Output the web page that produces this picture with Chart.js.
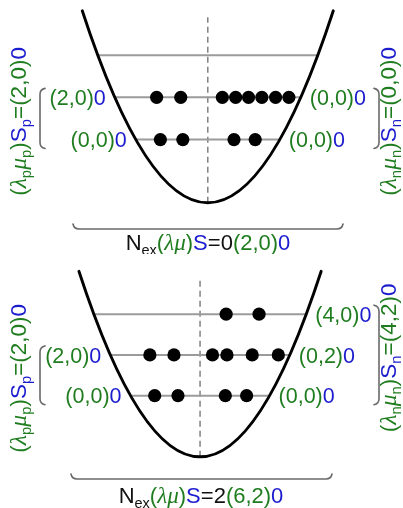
<!DOCTYPE html>
<html>
<head>
<meta charset="utf-8">
<script src="https://cdn.jsdelivr.net/npm/chart.js@4.4.1/dist/chart.umd.min.js"></script>
<style>
  html, body { margin: 0; padding: 0; background: #fff; }
  #wrap { position: relative; width: 403px; height: 508px; overflow: hidden; }
  #wrap canvas { position: absolute; left: 0; display: block; }
</style>
</head>
<body>
<div id="wrap">
  <canvas id="gs" width="403" height="254" style="top:0"></canvas>
  <canvas id="ex" width="403" height="254" style="top:254px"></canvas>
</div>
<script>
// Oscillator shell energies in units of hbar*omega (N + 3/2)
const shellEnergies = [1.5, 2.5, 3.5];
const wellTopEnergy = 4.55;
const axisTopEnergy = 4.4;

// Ground configuration, Nex = 0
const gsProtonX  = [[-1.14, -0.60], [-1.23, -0.65], []];
const gsNeutronX = [[0.63, 1.14], [0.35, 0.67, 0.98, 1.30, 1.63, 1.95], []];
const gsProtonIrreps  = ['(0,0)', '(2,0)', null];
const gsNeutronIrreps = ['(0,0)', '(0,0)', null];
const gsProtonTotal  = ['(2,0)', '0'];
const gsNeutronTotal = ['(0,0)', '0'];
const gsNex = '0';
const gsTotal = ['(2,0)', '0'];

// 2hbar*omega excitation, Nex = 2
const exProtonX  = [[-1.13, -0.55], [-1.25, -0.65], []];
const exNeutronX = [[0.63, 1.16], [0.31, 0.67, 1.30, 1.95], [0.65, 1.47]];
const exProtonIrreps  = ['(0,0)', '(2,0)', null];
const exNeutronIrreps = ['(0,0)', '(0,2)', '(4,0)'];
const exProtonTotal  = ['(2,0)', '0'];
const exNeutronTotal = ['(4,2)', '0'];
const exNex = '2';
const exTotal = ['(6,2)', '0'];

const levelSpin = '0';

const GREEN = '#1f7d1f';
const BLUE = '#1c1ccf';
const BLACK = '#111111';
const SANS = '"Liberation Sans", Arial, Helvetica, sans-serif';
const SERIF = '"Liberation Serif", "DejaVu Serif", serif';

function segFont(s, size) {
  const fs = s.sub ? size * 0.66 : (s.greek ? size * 1.05 : size);
  return (s.greek ? 'italic ' : '') + fs + 'px ' + (s.greek ? SERIF : SANS);
}
function richWidth(ctx, segs, size) {
  let w = 0;
  for (const s of segs) { ctx.font = segFont(s, size); w += ctx.measureText(s.t).width; }
  return w;
}
function drawRich(ctx, segs, x, y, align, size) {
  const w = richWidth(ctx, segs, size);
  let cx = align === 'right' ? x - w : align === 'center' ? x - w / 2 : x;
  ctx.textBaseline = 'alphabetic';
  ctx.textAlign = 'left';
  for (const s of segs) {
    ctx.font = segFont(s, size);
    ctx.fillStyle = s.c;
    ctx.fillText(s.t, cx, y + (s.sub ? size * 0.24 : 0));
    cx += ctx.measureText(s.t).width;
  }
}
function irrepSegs(irrep, spin) {
  return [{ t: irrep, c: GREEN }, { t: spin, c: BLUE }];
}
function partSegs(sub, total) {
  return [
    { t: '(', c: GREEN }, { t: 'λ', c: GREEN, greek: true }, { t: sub, c: GREEN, sub: true },
    { t: 'μ', c: GREEN, greek: true }, { t: sub, c: GREEN, sub: true }, { t: ')', c: GREEN },
    { t: 'S', c: BLUE }, { t: sub, c: BLUE, sub: true },
    { t: '=', c: GREEN }, { t: total[0], c: GREEN }, { t: total[1], c: BLUE }
  ];
}
function totalSegs(nex, total) {
  return [
    { t: 'N', c: BLACK }, { t: 'ex', c: BLACK, sub: true },
    { t: '(', c: GREEN }, { t: 'λ', c: GREEN, greek: true }, { t: 'μ', c: GREEN, greek: true }, { t: ')', c: GREEN },
    { t: 'S', c: BLUE }, { t: '=', c: BLACK }, { t: nex, c: BLACK },
    { t: total[0], c: GREEN }, { t: total[1], c: BLUE }
  ];
}

const panels = [
  {
    id: 'gs', protonX: gsProtonX, neutronX: gsNeutronX,
    protonIrreps: gsProtonIrreps, neutronIrreps: gsNeutronIrreps,
    protonTotal: gsProtonTotal, neutronTotal: gsNeutronTotal, nex: gsNex, total: gsTotal,
    view: { xMin: -208 / 43, xMax: 195 / 43, yMin: -47 / 44.5, yMax: 207 / 44.5 },
    frame: { bracketL: 40, bracketR: 379, labelL: 18, labelR: 388, braceY: 229, braceL: 73, braceR: 343, textX: 208, textY: 242 }
  },
  {
    id: 'ex', protonX: exProtonX, neutronX: exNeutronX,
    protonIrreps: exProtonIrreps, neutronIrreps: exNeutronIrreps,
    protonTotal: exProtonTotal, neutronTotal: exNeutronTotal, nex: exNex, total: exTotal,
    view: { xMin: -200 / 41.5, xMax: 203 / 41.5, yMin: -47 / 43, yMax: 207 / 43 },
    frame: { bracketL: 40, bracketR: 379, labelL: 18, labelR: 388, braceY: 225, braceL: 71, braceR: 332, textX: 201, textY: 241 }
  }
];

const LABEL_SIZE = 21.5;
const SIDE_SIZE = 22.5;
const TOTAL_SIZE = 22;
const CAP = 0.716;

const decorations = {
  id: 'decorations',
  afterDatasetsDraw(chart, args, opts) {
    const p = opts.panel, f = p.frame;
    const ctx = chart.ctx, xs = chart.scales.x, ys = chart.scales.y;
    ctx.save();

    // harmonic-oscillator well, exact parabola as a quadratic Bezier
    const a = Math.sqrt(2 * wellTopEnergy);
    ctx.beginPath();
    ctx.moveTo(xs.getPixelForValue(-a), ys.getPixelForValue(wellTopEnergy));
    ctx.quadraticCurveTo(xs.getPixelForValue(0), ys.getPixelForValue(-wellTopEnergy),
                         xs.getPixelForValue(a), ys.getPixelForValue(wellTopEnergy));
    ctx.lineWidth = 3;
    ctx.strokeStyle = '#000';
    ctx.lineCap = 'round';
    ctx.stroke();

    // shell labels beside the well walls
    shellEnergies.forEach((E, i) => {
      const w = Math.sqrt(2 * E);
      const y = ys.getPixelForValue(E) + LABEL_SIZE * CAP / 2;
      if (p.protonIrreps[i]) drawRich(ctx, irrepSegs(p.protonIrreps[i], levelSpin), xs.getPixelForValue(-w) - 9, y, 'right', LABEL_SIZE);
      if (p.neutronIrreps[i]) drawRich(ctx, irrepSegs(p.neutronIrreps[i], levelSpin), xs.getPixelForValue(w) + 9, y, 'left', LABEL_SIZE);
    });

    // brackets grouping the occupied shells
    const span = (irreps) => {
      const occ = shellEnergies.filter((E, i) => irreps[i]);
      return [ys.getPixelForValue(Math.max(...occ)) - 9, ys.getPixelForValue(Math.min(...occ)) + 9];
    };
    ctx.strokeStyle = '#6a6a6a';
    ctx.lineWidth = 1.6;
    const bracket = (x, top, bot, dir) => {
      ctx.beginPath();
      ctx.moveTo(x + dir * 5, top);
      ctx.quadraticCurveTo(x, top + 1, x, top + 6);
      ctx.lineTo(x, bot - 6);
      ctx.quadraticCurveTo(x, bot - 1, x + dir * 5, bot);
      ctx.stroke();
    };
    const [pt, pb] = span(p.protonIrreps);
    const [nt, nb] = span(p.neutronIrreps);
    bracket(f.bracketL, pt, pb, 1);
    bracket(f.bracketR, nt, nb, -1);

    // rotated totals for protons and neutrons
    const rotLabel = (cx, cy, segs) => {
      ctx.save();
      ctx.translate(cx, cy);
      ctx.rotate(-Math.PI / 2);
      drawRich(ctx, segs, 0, SIDE_SIZE * CAP / 2, 'center', SIDE_SIZE);
      ctx.restore();
    };
    rotLabel(f.labelL, (pt + pb) / 2 + 3, partSegs('p', p.protonTotal));
    rotLabel(f.labelR, (nt + nb) / 2 + 3, partSegs('n', p.neutronTotal));

    // underbrace and coupled total
    ctx.strokeStyle = '#6a6a6a';
    ctx.lineWidth = 1.6;
    ctx.beginPath();
    ctx.moveTo(f.braceL, f.braceY - 5);
    ctx.quadraticCurveTo(f.braceL + 1, f.braceY, f.braceL + 6, f.braceY);
    ctx.lineTo(f.braceR - 6, f.braceY);
    ctx.quadraticCurveTo(f.braceR - 1, f.braceY, f.braceR, f.braceY - 5);
    ctx.stroke();
    drawRich(ctx, totalSegs(p.nex, p.total), f.textX, f.textY + TOTAL_SIZE * CAP / 2, 'center', TOTAL_SIZE);

    ctx.restore();
  }
};

panels.forEach(p => {
  const levelSets = shellEnergies.map(E => {
    const w = Math.sqrt(2 * E);
    return {
      data: [{ x: -w, y: E }, { x: w, y: E }],
      showLine: true, borderColor: '#9b9b9b', borderWidth: 2, pointRadius: 0, order: 1
    };
  });
  const dots = [];
  shellEnergies.forEach((E, i) => {
    p.protonX[i].forEach(x => dots.push({ x, y: E }));
    p.neutronX[i].forEach(x => dots.push({ x, y: E }));
  });

  new Chart(document.getElementById(p.id), {
    type: 'scatter',
    data: {
      datasets: [
        { data: dots, pointRadius: 6.6, pointBackgroundColor: '#000', pointBorderWidth: 0, showLine: false, order: 0 },
        ...levelSets,
        {
          data: [{ x: 0, y: 0 }, { x: 0, y: axisTopEnergy }],
          showLine: true, borderColor: '#808080', borderWidth: 1.5, borderDash: [6, 4], pointRadius: 0, order: 2
        }
      ]
    },
    options: {
      responsive: false,
      animation: false,
      devicePixelRatio: 1,
      layout: { padding: 0 },
      events: [],
      scales: {
        x: { type: 'linear', display: false, bounds: 'data', min: p.view.xMin, max: p.view.xMax },
        y: { type: 'linear', display: false, bounds: 'data', min: p.view.yMin, max: p.view.yMax }
      },
      plugins: { legend: { display: false }, tooltip: { enabled: false }, decorations: { panel: p } }
    },
    plugins: [decorations]
  });
});
</script>
</body>
</html>
